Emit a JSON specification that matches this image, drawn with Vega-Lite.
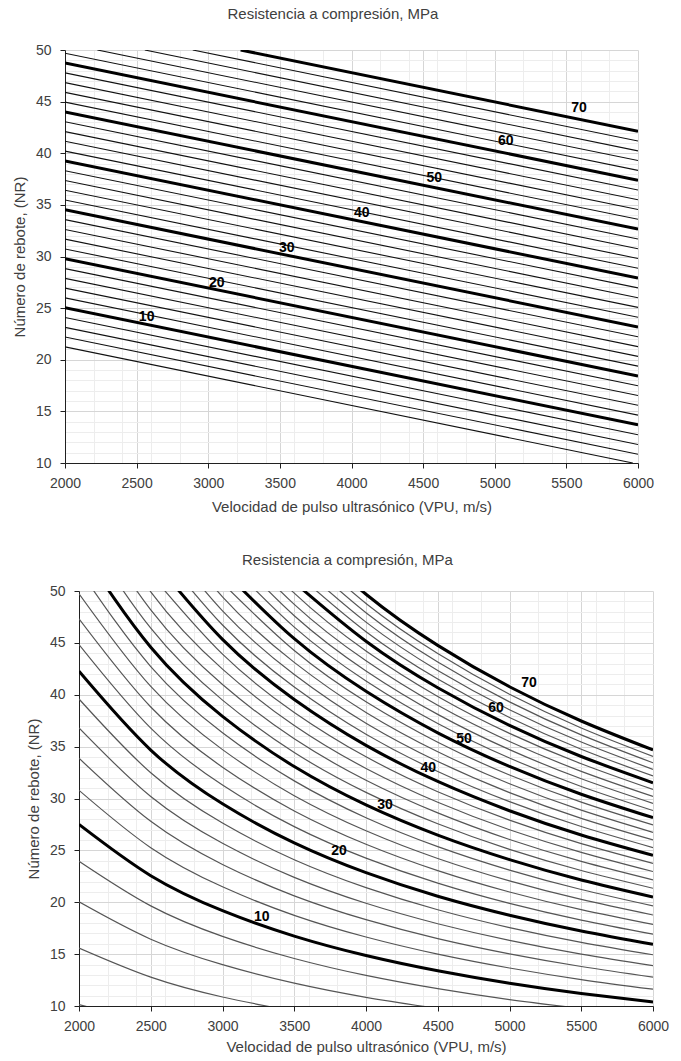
{
  "$schema": "https://vega.github.io/schema/vega-lite/v6.json",
  "background": "white",
  "padding": {"left": 12, "top": 7, "right": 20, "bottom": 5},
  "config": {
    "view": {"stroke": null},
    "font": "Liberation Sans",
    "axis": {
      "labelFont": "Liberation Sans",
      "titleFont": "Liberation Sans",
      "labelFontSize": 14,
      "titleFontSize": 15,
      "titleFontWeight": "normal",
      "labelColor": "#404040",
      "titleColor": "#404040",
      "domainColor": "#202020",
      "tickColor": "#202020",
      "tickSize": 5,
      "labelOverlap": false,
      "labelFlush": false
    },
    "axisX": {"labelPadding": 8},
    "axisY": {"labelPadding": 9},
    "title": {"font": "Liberation Sans", "fontSize": 15, "fontWeight": "normal", "color": "#404040", "frame": "bounds", "anchor": "middle"}
  },
  "datasets": {
    "top": [
      {"f":2,"v":2000,"nr":21.25},{"f":2,"v":5964,"nr":10},
      {"f":4,"v":2000,"nr":22.20},{"f":4,"v":6000,"nr":10.85},
      {"f":6,"v":2000,"nr":23.14},{"f":6,"v":6000,"nr":11.79},
      {"f":8,"v":2000,"nr":24.09},{"f":8,"v":6000,"nr":12.74},
      {"f":10,"v":2000,"nr":25.04},{"f":10,"v":6000,"nr":13.69},
      {"f":12,"v":2000,"nr":25.99},{"f":12,"v":6000,"nr":14.64},
      {"f":14,"v":2000,"nr":26.94},{"f":14,"v":6000,"nr":15.59},
      {"f":16,"v":2000,"nr":27.88},{"f":16,"v":6000,"nr":16.53},
      {"f":18,"v":2000,"nr":28.83},{"f":18,"v":6000,"nr":17.48},
      {"f":20,"v":2000,"nr":29.78},{"f":20,"v":6000,"nr":18.43},
      {"f":22,"v":2000,"nr":30.73},{"f":22,"v":6000,"nr":19.38},
      {"f":24,"v":2000,"nr":31.68},{"f":24,"v":6000,"nr":20.33},
      {"f":26,"v":2000,"nr":32.62},{"f":26,"v":6000,"nr":21.27},
      {"f":28,"v":2000,"nr":33.57},{"f":28,"v":6000,"nr":22.22},
      {"f":30,"v":2000,"nr":34.52},{"f":30,"v":6000,"nr":23.17},
      {"f":32,"v":2000,"nr":35.47},{"f":32,"v":6000,"nr":24.12},
      {"f":34,"v":2000,"nr":36.42},{"f":34,"v":6000,"nr":25.07},
      {"f":36,"v":2000,"nr":37.36},{"f":36,"v":6000,"nr":26.01},
      {"f":38,"v":2000,"nr":38.31},{"f":38,"v":6000,"nr":26.96},
      {"f":40,"v":2000,"nr":39.26},{"f":40,"v":6000,"nr":27.91},
      {"f":42,"v":2000,"nr":40.21},{"f":42,"v":6000,"nr":28.86},
      {"f":44,"v":2000,"nr":41.16},{"f":44,"v":6000,"nr":29.81},
      {"f":46,"v":2000,"nr":42.10},{"f":46,"v":6000,"nr":30.75},
      {"f":48,"v":2000,"nr":43.05},{"f":48,"v":6000,"nr":31.70},
      {"f":50,"v":2000,"nr":44.00},{"f":50,"v":6000,"nr":32.65},
      {"f":52,"v":2000,"nr":44.95},{"f":52,"v":6000,"nr":33.60},
      {"f":54,"v":2000,"nr":45.90},{"f":54,"v":6000,"nr":34.55},
      {"f":56,"v":2000,"nr":46.84},{"f":56,"v":6000,"nr":35.49},
      {"f":58,"v":2000,"nr":47.79},{"f":58,"v":6000,"nr":36.44},
      {"f":60,"v":2000,"nr":48.74},{"f":60,"v":6000,"nr":37.39},
      {"f":62,"v":2000,"nr":49.69},{"f":62,"v":6000,"nr":38.34},
      {"f":64,"v":2226,"nr":50},{"f":64,"v":6000,"nr":39.29},
      {"f":66,"v":2557,"nr":50},{"f":66,"v":6000,"nr":40.23},
      {"f":68,"v":2892,"nr":50},{"f":68,"v":6000,"nr":41.18},
      {"f":70,"v":3226,"nr":50},{"f":70,"v":6000,"nr":42.13}
    ],
    "topLab": [
      {"t":"10","v":2570,"nr":24.17},
      {"t":"20","v":3059,"nr":27.46},
      {"t":"30","v":3548,"nr":30.79},
      {"t":"40","v":4071,"nr":34.18},
      {"t":"50","v":4578,"nr":37.57},
      {"t":"60","v":5077,"nr":41.19},
      {"t":"70","v":5588,"nr":44.41}
    ],
    "botLab": [
      {"t":"10","v":3273,"nr":18.55},
      {"t":"20","v":3812,"nr":24.94},
      {"t":"30","v":4133,"nr":29.37},
      {"t":"40","v":4434,"nr":32.97},
      {"t":"50","v":4683,"nr":35.73},
      {"t":"60","v":4906,"nr":38.69},
      {"t":"70","v":5136,"nr":41.10}
    ],
    "bot": [
      {"f":2,"v":2000,"nr":10.14},{"f":2,"v":2500,"nr":8.32},
      {"f":4,"v":2000,"nr":15.58},{"f":4,"v":2500,"nr":12.78},{"f":4,"v":3000,"nr":10.87},{"f":4,"v":3500,"nr":9.48},
      {"f":6,"v":2000,"nr":20.04},{"f":6,"v":2500,"nr":16.44},{"f":6,"v":3000,"nr":13.99},{"f":6,"v":3500,"nr":12.20},{"f":6,"v":4000,"nr":10.84},{"f":6,"v":4500,"nr":9.76},
      {"f":8,"v":2000,"nr":23.95},{"f":8,"v":2500,"nr":19.65},{"f":8,"v":3000,"nr":16.71},{"f":8,"v":3500,"nr":14.58},{"f":8,"v":4000,"nr":12.95},{"f":8,"v":4500,"nr":11.67},{"f":8,"v":5000,"nr":10.62},{"f":8,"v":5500,"nr":9.76},
      {"f":10,"v":2000,"nr":27.50},{"f":10,"v":2500,"nr":22.56},{"f":10,"v":3000,"nr":19.19},{"f":10,"v":3500,"nr":16.74},{"f":10,"v":4000,"nr":14.87},{"f":10,"v":4500,"nr":13.40},{"f":10,"v":5000,"nr":12.20},{"f":10,"v":5500,"nr":11.21},{"f":10,"v":6000,"nr":10.38},
      {"f":12,"v":2000,"nr":30.79},{"f":12,"v":2500,"nr":25.26},{"f":12,"v":3000,"nr":21.49},{"f":12,"v":3500,"nr":18.74},{"f":12,"v":4000,"nr":16.65},{"f":12,"v":4500,"nr":15.00},{"f":12,"v":5000,"nr":13.66},{"f":12,"v":5500,"nr":12.55},{"f":12,"v":6000,"nr":11.62},
      {"f":14,"v":2000,"nr":33.88},{"f":14,"v":2500,"nr":27.80},{"f":14,"v":3000,"nr":23.64},{"f":14,"v":3500,"nr":20.62},{"f":14,"v":4000,"nr":18.32},{"f":14,"v":4500,"nr":16.50},{"f":14,"v":5000,"nr":15.03},{"f":14,"v":5500,"nr":13.81},{"f":14,"v":6000,"nr":12.79},
      {"f":16,"v":2000,"nr":36.80},{"f":16,"v":2500,"nr":30.19},{"f":16,"v":3000,"nr":25.68},{"f":16,"v":3500,"nr":22.40},{"f":16,"v":4000,"nr":19.90},{"f":16,"v":4500,"nr":17.93},{"f":16,"v":5000,"nr":16.32},{"f":16,"v":5500,"nr":15.00},{"f":16,"v":6000,"nr":13.89},
      {"f":18,"v":2000,"nr":39.59},{"f":18,"v":2500,"nr":32.48},{"f":18,"v":3000,"nr":27.63},{"f":18,"v":3500,"nr":24.10},{"f":18,"v":4000,"nr":21.41},{"f":18,"v":4500,"nr":19.28},{"f":18,"v":5000,"nr":17.56},{"f":18,"v":5500,"nr":16.14},{"f":18,"v":6000,"nr":14.94},
      {"f":20,"v":2000,"nr":42.26},{"f":20,"v":2500,"nr":34.67},{"f":20,"v":3000,"nr":29.49},{"f":20,"v":3500,"nr":25.72},{"f":20,"v":4000,"nr":22.85},{"f":20,"v":4500,"nr":20.58},{"f":20,"v":5000,"nr":18.75},{"f":20,"v":5500,"nr":17.23},{"f":20,"v":6000,"nr":15.95},
      {"f":22,"v":2000,"nr":44.84},{"f":22,"v":2500,"nr":36.79},{"f":22,"v":3000,"nr":31.29},{"f":22,"v":3500,"nr":27.29},{"f":22,"v":4000,"nr":24.25},{"f":22,"v":4500,"nr":21.84},{"f":22,"v":5000,"nr":19.89},{"f":22,"v":5500,"nr":18.28},{"f":22,"v":6000,"nr":16.92},
      {"f":24,"v":2000,"nr":47.32},{"f":24,"v":2500,"nr":38.82},{"f":24,"v":3000,"nr":33.02},{"f":24,"v":3500,"nr":28.80},{"f":24,"v":4000,"nr":25.59},{"f":24,"v":4500,"nr":23.05},{"f":24,"v":5000,"nr":20.99},{"f":24,"v":5500,"nr":19.29},{"f":24,"v":6000,"nr":17.86},
      {"f":26,"v":2000,"nr":49.73},{"f":26,"v":2500,"nr":40.80},{"f":26,"v":3000,"nr":34.71},{"f":26,"v":3500,"nr":30.27},{"f":26,"v":4000,"nr":26.89},{"f":26,"v":4500,"nr":24.22},{"f":26,"v":5000,"nr":22.06},{"f":26,"v":5500,"nr":20.27},{"f":26,"v":6000,"nr":18.77},
      {"f":28,"v":2000,"nr":52.07},{"f":28,"v":2500,"nr":42.72},{"f":28,"v":3000,"nr":36.34},{"f":28,"v":3500,"nr":31.70},{"f":28,"v":4000,"nr":28.15},{"f":28,"v":4500,"nr":25.36},{"f":28,"v":5000,"nr":23.10},{"f":28,"v":5500,"nr":21.23},{"f":28,"v":6000,"nr":19.65},
      {"f":30,"v":2000,"nr":54.34},{"f":30,"v":2500,"nr":44.58},{"f":30,"v":3000,"nr":37.92},{"f":30,"v":3500,"nr":33.08},{"f":30,"v":4000,"nr":29.38},{"f":30,"v":4500,"nr":26.47},{"f":30,"v":5000,"nr":24.11},{"f":30,"v":5500,"nr":22.15},{"f":30,"v":6000,"nr":20.51},
      {"f":32,"v":2000,"nr":56.57},{"f":32,"v":2500,"nr":46.41},{"f":32,"v":3000,"nr":39.48},{"f":32,"v":3500,"nr":34.43},{"f":32,"v":4000,"nr":30.59},{"f":32,"v":4500,"nr":27.56},{"f":32,"v":5000,"nr":25.09},{"f":32,"v":5500,"nr":23.06},{"f":32,"v":6000,"nr":21.35},
      {"f":34,"v":2000,"nr":58.73},{"f":34,"v":2500,"nr":48.18},{"f":34,"v":3000,"nr":40.99},{"f":34,"v":3500,"nr":35.75},{"f":34,"v":4000,"nr":31.76},{"f":34,"v":4500,"nr":28.61},{"f":34,"v":5000,"nr":26.05},{"f":34,"v":5500,"nr":23.94},{"f":34,"v":6000,"nr":22.16},
      {"f":36,"v":2000,"nr":60.85},{"f":36,"v":2500,"nr":49.92},{"f":36,"v":3000,"nr":42.47},{"f":36,"v":3500,"nr":37.04},{"f":36,"v":4000,"nr":32.90},{"f":36,"v":4500,"nr":29.64},{"f":36,"v":5000,"nr":26.99},{"f":36,"v":5500,"nr":24.81},{"f":36,"v":6000,"nr":22.96},
      {"f":38,"v":2500,"nr":51.62},{"f":38,"v":3000,"nr":43.91},{"f":38,"v":3500,"nr":38.30},{"f":38,"v":4000,"nr":34.02},{"f":38,"v":4500,"nr":30.65},{"f":38,"v":5000,"nr":27.91},{"f":38,"v":5500,"nr":25.65},{"f":38,"v":6000,"nr":23.75},
      {"f":40,"v":2500,"nr":53.29},{"f":40,"v":3000,"nr":45.34},{"f":40,"v":3500,"nr":39.54},{"f":40,"v":4000,"nr":35.12},{"f":40,"v":4500,"nr":31.64},{"f":40,"v":5000,"nr":28.82},{"f":40,"v":5500,"nr":26.48},{"f":40,"v":6000,"nr":24.52},
      {"f":42,"v":2500,"nr":54.93},{"f":42,"v":3000,"nr":46.72},{"f":42,"v":3500,"nr":40.75},{"f":42,"v":4000,"nr":36.20},{"f":42,"v":4500,"nr":32.61},{"f":42,"v":5000,"nr":29.70},{"f":42,"v":5500,"nr":27.30},{"f":42,"v":6000,"nr":25.27},
      {"f":44,"v":2500,"nr":56.53},{"f":44,"v":3000,"nr":48.09},{"f":44,"v":3500,"nr":41.95},{"f":44,"v":4000,"nr":37.26},{"f":44,"v":4500,"nr":33.57},{"f":44,"v":5000,"nr":30.57},{"f":44,"v":5500,"nr":28.09},{"f":44,"v":6000,"nr":26.01},
      {"f":46,"v":2500,"nr":58.12},{"f":46,"v":3000,"nr":49.44},{"f":46,"v":3500,"nr":43.12},{"f":46,"v":4000,"nr":38.30},{"f":46,"v":4500,"nr":34.51},{"f":46,"v":5000,"nr":31.42},{"f":46,"v":5500,"nr":28.88},{"f":46,"v":6000,"nr":26.74},
      {"f":48,"v":3000,"nr":50.76},{"f":48,"v":3500,"nr":44.27},{"f":48,"v":4000,"nr":39.33},{"f":48,"v":4500,"nr":35.43},{"f":48,"v":5000,"nr":32.26},{"f":48,"v":5500,"nr":29.65},{"f":48,"v":6000,"nr":27.45},
      {"f":50,"v":3000,"nr":52.06},{"f":50,"v":3500,"nr":45.40},{"f":50,"v":4000,"nr":40.33},{"f":50,"v":4500,"nr":36.33},{"f":50,"v":5000,"nr":33.09},{"f":50,"v":5500,"nr":30.41},{"f":50,"v":6000,"nr":28.15},
      {"f":52,"v":3000,"nr":53.34},{"f":52,"v":3500,"nr":46.52},{"f":52,"v":4000,"nr":41.33},{"f":52,"v":4500,"nr":37.23},{"f":52,"v":5000,"nr":33.90},{"f":52,"v":5500,"nr":31.16},{"f":52,"v":6000,"nr":28.84},
      {"f":54,"v":3000,"nr":54.60},{"f":54,"v":3500,"nr":47.62},{"f":54,"v":4000,"nr":42.30},{"f":54,"v":4500,"nr":38.11},{"f":54,"v":5000,"nr":34.71},{"f":54,"v":5500,"nr":31.90},{"f":54,"v":6000,"nr":29.53},
      {"f":56,"v":3000,"nr":55.85},{"f":56,"v":3500,"nr":48.71},{"f":56,"v":4000,"nr":43.27},{"f":56,"v":4500,"nr":38.98},{"f":56,"v":5000,"nr":35.50},{"f":56,"v":5500,"nr":32.62},{"f":56,"v":6000,"nr":30.20},
      {"f":58,"v":3000,"nr":57.08},{"f":58,"v":3500,"nr":49.79},{"f":58,"v":4000,"nr":44.22},{"f":58,"v":4500,"nr":39.84},{"f":58,"v":5000,"nr":36.28},{"f":58,"v":5500,"nr":33.35},{"f":58,"v":6000,"nr":30.87},
      {"f":60,"v":3500,"nr":50.84},{"f":60,"v":4000,"nr":45.16},{"f":60,"v":4500,"nr":40.68},{"f":60,"v":5000,"nr":37.05},{"f":60,"v":5500,"nr":34.05},{"f":60,"v":6000,"nr":31.52},
      {"f":62,"v":3500,"nr":51.88},{"f":62,"v":4000,"nr":46.08},{"f":62,"v":4500,"nr":41.52},{"f":62,"v":5000,"nr":37.81},{"f":62,"v":5500,"nr":34.75},{"f":62,"v":6000,"nr":32.17},
      {"f":64,"v":3500,"nr":52.91},{"f":64,"v":4000,"nr":47.00},{"f":64,"v":4500,"nr":42.34},{"f":64,"v":5000,"nr":38.56},{"f":64,"v":5500,"nr":35.44},{"f":64,"v":6000,"nr":32.81},
      {"f":66,"v":3500,"nr":53.94},{"f":66,"v":4000,"nr":47.91},{"f":66,"v":4500,"nr":43.16},{"f":66,"v":5000,"nr":39.31},{"f":66,"v":5500,"nr":36.13},{"f":66,"v":6000,"nr":33.44},
      {"f":68,"v":3500,"nr":54.94},{"f":68,"v":4000,"nr":48.80},{"f":68,"v":4500,"nr":43.97},{"f":68,"v":5000,"nr":40.04},{"f":68,"v":5500,"nr":36.80},{"f":68,"v":6000,"nr":34.06},
      {"f":70,"v":3500,"nr":55.94},{"f":70,"v":4000,"nr":49.69},{"f":70,"v":4500,"nr":44.76},{"f":70,"v":5000,"nr":40.77},{"f":70,"v":5500,"nr":37.47},{"f":70,"v":6000,"nr":34.68}
    ]
  },
  "spacing": 39,
  "vconcat": [
    {
      "width": 573,
      "height": 413,
      "title": {"text": "Resistencia a compresión, MPa", "offset": 21},
      "encoding": {
        "x": {"field": "v", "type": "quantitative", "title": "Velocidad de pulso ultrasónico (VPU, m/s)",
          "scale": {"domain": [2000, 6000], "nice": false, "zero": false},
          "axis": {"values": [2000,2200,2400,2500,2600,2800,3000,3200,3400,3500,3600,3800,4000,4200,4400,4500,4600,4800,5000,5200,5400,5500,5600,5800,6000],
            "format": "d", "labelExpr": "datum.value % 500 === 0 ? datum.label : ''",
            "gridColor": {"condition": {"test": "datum.value % 500 === 0", "value": "#d6d6d6"}, "value": "#ededed"},
            "tickOpacity": {"condition": {"test": "datum.value % 500 === 0", "value": 1}, "value": 0},
            "titlePadding": 9}},
        "y": {"field": "nr", "type": "quantitative", "title": "Número de rebote, (NR)",
          "scale": {"domain": [10, 50], "nice": false, "zero": false},
          "axis": {"values": [10,11,12,13,14,15,16,17,18,19,20,21,22,23,24,25,26,27,28,29,30,31,32,33,34,35,36,37,38,39,40,41,42,43,44,45,46,47,48,49,50],
            "labelExpr": "datum.value % 5 === 0 ? datum.label : ''",
            "gridColor": {"condition": {"test": "datum.value % 5 === 0", "value": "#d6d6d6"}, "value": "#ededed"},
            "tickOpacity": {"condition": {"test": "datum.value % 5 === 0", "value": 1}, "value": 0},
            "titlePadding": 8}}
      },
      "layer": [
        {"data": {"name": "top"}, "transform": [{"filter": "datum.f % 10 !== 0"}],
         "mark": {"type": "line", "color": "#111111", "strokeWidth": 1.1, "clip": true},
         "encoding": {"detail": {"field": "f", "type": "nominal"}}},
        {"data": {"name": "top"}, "transform": [{"filter": "datum.f % 10 === 0"}],
         "mark": {"type": "line", "color": "#000000", "strokeWidth": 3, "clip": true},
         "encoding": {"detail": {"field": "f", "type": "nominal"}}},
        {"data": {"name": "topLab"},
         "mark": {"type": "text", "font": "Liberation Sans", "fontWeight": "bold", "fontSize": 14, "color": "#000000"},
         "encoding": {"text": {"field": "t"}}}
      ]
    },
    {
      "spacing": 13,
      "bounds": "flush",
      "hconcat": [
        {"width": 1, "height": 415, "data": {"values": []}, "mark": "text", "encoding": {}},
        {
          "width": 574,
          "height": 415,
          "title": {"text": "Resistencia a compresión, MPa", "offset": 16},
          "encoding": {
            "x": {"field": "v", "type": "quantitative", "title": "Velocidad de pulso ultrasónico (VPU, m/s)",
              "scale": {"domain": [2000, 6000], "nice": false, "zero": false},
              "axis": {"values": [2000,2200,2400,2500,2600,2800,3000,3200,3400,3500,3600,3800,4000,4200,4400,4500,4600,4800,5000,5200,5400,5500,5600,5800,6000],
                "format": "d", "labelExpr": "datum.value % 500 === 0 ? datum.label : ''",
                "gridColor": {"condition": {"test": "datum.value % 500 === 0", "value": "#d6d6d6"}, "value": "#ededed"},
                "tickOpacity": {"condition": {"test": "datum.value % 500 === 0", "value": 1}, "value": 0},
                "titlePadding": 6}},
            "y": {"field": "nr", "type": "quantitative", "title": "Número de rebote, (NR)",
              "scale": {"domain": [10, 50], "nice": false, "zero": false},
              "axis": {"values": [10,11,12,13,14,15,16,17,18,19,20,21,22,23,24,25,26,27,28,29,30,31,32,33,34,35,36,37,38,39,40,41,42,43,44,45,46,47,48,49,50],
                "labelExpr": "datum.value % 5 === 0 ? datum.label : ''",
                "gridColor": {"condition": {"test": "datum.value % 5 === 0", "value": "#d6d6d6"}, "value": "#ededed"},
                "tickOpacity": {"condition": {"test": "datum.value % 5 === 0", "value": 1}, "value": 0},
                "titlePadding": 8}}
          },
          "layer": [
            {"data": {"name": "bot"}, "transform": [{"filter": "datum.f % 10 !== 0"}],
             "mark": {"type": "line", "color": "#555555", "strokeWidth": 1.2, "clip": true, "interpolate": "natural"},
             "encoding": {"detail": {"field": "f", "type": "nominal"}}},
            {"data": {"name": "bot"}, "transform": [{"filter": "datum.f % 10 === 0"}],
             "mark": {"type": "line", "color": "#000000", "strokeWidth": 3, "clip": true, "interpolate": "natural"},
             "encoding": {"detail": {"field": "f", "type": "nominal"}}},
            {"data": {"name": "botLab"},
             "mark": {"type": "text", "font": "Liberation Sans", "fontWeight": "bold", "fontSize": 14, "color": "#000000"},
             "encoding": {"text": {"field": "t"}}}
          ]
        }
      ]
    }
  ]
}
